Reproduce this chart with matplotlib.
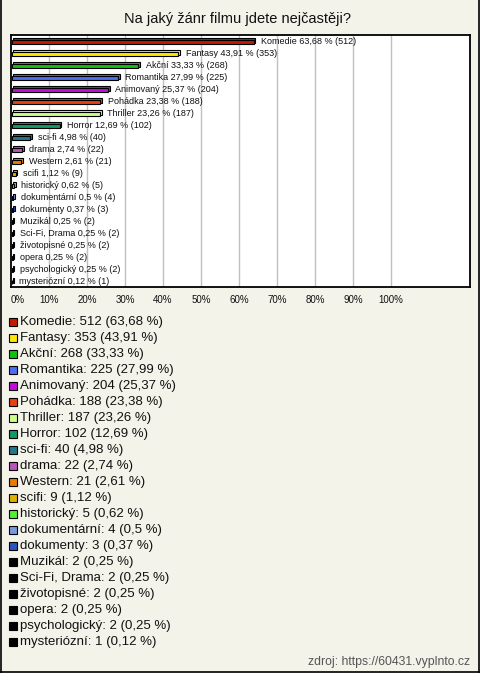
import matplotlib
matplotlib.use("Agg")
import matplotlib.pyplot as plt
from matplotlib.patches import Rectangle

plt.rcParams['font.family'] = ['Liberation Sans', 'DejaVu Sans']

title = "Na jaký žánr filmu jdete nejčastěji?"
categories = ["Komedie", "Fantasy", "Akční", "Romantika", "Animovaný", "Pohádka",
              "Thriller", "Horror", "sci-fi", "drama", "Western", "scifi",
              "historický", "dokumentární", "dokumenty", "Muzikál", "Sci-Fi, Drama",
              "životopisné", "opera", "psychologický", "mysteriózní"]
counts = [512, 353, 268, 225, 204, 188, 187, 102, 40, 22, 21, 9, 5, 4, 3, 2, 2, 2, 2, 2, 1]
percents = [63.68, 43.91, 33.33, 27.99, 25.37, 23.38, 23.26, 12.69, 4.98, 2.74, 2.61,
            1.12, 0.62, 0.5, 0.37, 0.25, 0.25, 0.25, 0.25, 0.25, 0.12]
colors = ["#c41a00", "#ffe800", "#11c011", "#4c6ff0", "#c010d8", "#e84010",
          "#ccff88", "#119966", "#227788", "#bb55bb", "#e87a08", "#e0b000",
          "#55ee33", "#7799dd", "#2a55bb", "#000000", "#000000", "#000000",
          "#000000", "#000000", "#000000"]
ticks = [0, 10, 20, 30, 40, 50, 60, 70, 80, 90, 100]
source = "zdroj: https://60431.vyplnto.cz"

W, H = 480, 673
fig = plt.figure(figsize=(W / 100, H / 100), dpi=100)
bg = "#f3f3ea"
fig.patch.set_facecolor(bg)

# background pixel axes
bga = fig.add_axes([0, 0, 1, 1], zorder=0)
bga.set_xlim(0, W)
bga.set_ylim(H, 0)
bga.axis("off")
bga.plot([0.5, 0.5], [0, H - 0.5], color="black", lw=1.2)
bga.plot([W - 1.5, W - 1.5], [0, H - 0.5], color="black", lw=1.2)
bga.plot([0.5, W - 1.5], [H - 1, H - 1], color="black", lw=1.2)

def fmt(p):
    return f"{p:g}".replace(".", ",")

bga.text(237, 19, title, ha="center", va="center", fontsize=10.5, color="#111111")

# legend
for i, (c, n, p, col) in enumerate(zip(categories, counts, percents, colors)):
    yc = 322 + 16.02 * i
    bga.add_patch(Rectangle((9, yc - 4), 8, 8, facecolor=col, edgecolor="black", lw=0.8))
    bga.text(20, yc, f"{c}: {n} ({fmt(p)} %)", ha="left", va="center", fontsize=9.5, color="#111111")

bga.text(470, 662, source, ha="right", va="center", fontsize=8.8, color="#555555")

# main chart axes
left, right, top, bottom = 11, 470, 35, 287
ax = fig.add_axes([left / W, 1 - bottom / H, (right - left) / W, (bottom - top) / H], zorder=1)
ax.set_facecolor("white")
xmax = (right - left) / 380 * 100
ax.set_xlim(0, xmax)
n = len(categories)
ax.set_ylim(n - 0.5, -0.5)
pxx = xmax / (right - left)
pxy = 1 / 12.0

for t in ticks[1:]:
    ax.axvline(t, color="#c0c0c0", lw=1, zorder=0)

h = 4.5 * pxy
dx = 1.6 * pxx
dy = 1.6 * pxy
for i, (c, nn, p, col) in enumerate(zip(categories, counts, percents, colors)):
    y0 = i + 0.6 * pxy - h / 2 + 0.5 * pxy
    ax.add_patch(Rectangle((0.15 + dx, y0 - dy), p, h, facecolor=col, edgecolor="black", lw=0.8, zorder=2))
    ax.add_patch(Rectangle((0.15, y0), p, h, facecolor=col, edgecolor="black", lw=0.8, zorder=3))
    ax.annotate(f"{c} {fmt(p)} % ({nn})", xy=(p, i), xytext=(8, 0), textcoords="offset pixels",
                ha="left", va="center", fontsize=6.5, color="#111111", zorder=4)

ax.set_yticks([])
ax.set_xticks(ticks)
ax.set_xticklabels([f"{t}%" for t in ticks], fontsize=7, color="#111111")
ax.get_xticklabels()[0].set_ha("left")
ax.tick_params(axis="x", length=0, pad=5.5)
for s in ax.spines.values():
    s.set_color("black")
    s.set_linewidth(1.3)

fig.savefig("out.png", dpi=100, facecolor=fig.get_facecolor())
